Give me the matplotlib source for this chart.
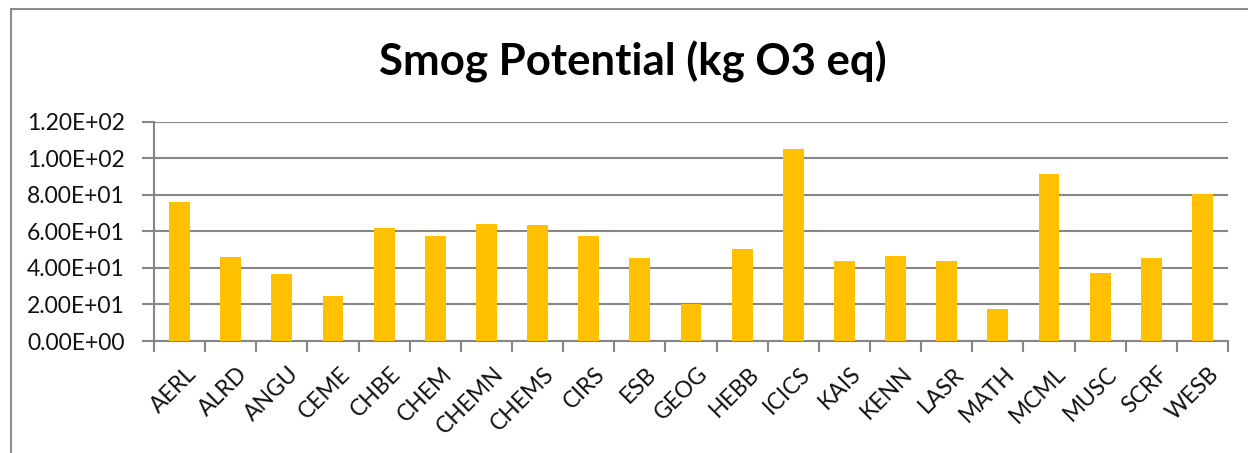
import matplotlib
matplotlib.use("Agg")
import matplotlib.pyplot as plt
import matplotlib.transforms as mtransforms
from matplotlib.patches import Rectangle
from matplotlib.ticker import FuncFormatter
import numpy as np

buildings = ["AERL", "ALRD", "ANGU", "CEME", "CHBE", "CHEM", "CHEMN", "CHEMS",
             "CIRS", "ESB", "GEOG", "HEBB", "ICICS", "KAIS", "KENN", "LASR",
             "MATH", "MCML", "MUSC", "SCRF", "WESB"]
smog_kg_o3 = [75.9, 46.0, 36.5, 24.8, 62.0, 57.6, 64.2, 63.5,
              57.6, 45.2, 20.4, 50.3, 105.1, 43.8, 46.7, 43.8,
              17.5, 91.2, 37.2, 45.2, 80.3]
y_ticks = [0, 20, 40, 60, 80, 100, 120]

W, H = 1248, 453
fig = plt.figure(figsize=(W / 100, H / 100), dpi=100)
plt.rcParams["font.family"] = ["Lato", "DejaVu Sans"]

# chart frame (runs off the right and bottom edges)
fig.patches.append(Rectangle((11 / W, -0.05), 1.1, 1.05 - 9 / H,
                             transform=fig.transFigure, fill=False,
                             edgecolor="#8c8c8c", linewidth=1.5))

ax = fig.add_axes([154 / W, 1 - 341 / H, (1228 - 154) / W, (341 - 121.7) / H])

x = np.arange(len(buildings))
ax.bar(x, smog_kg_o3, width=0.41, color="#FFC000", zorder=3)

ax.set_xlim(-0.5, len(buildings) - 0.5)
ax.set_ylim(0, 120)
ax.set_yticks(y_ticks)
ax.yaxis.set_major_formatter(FuncFormatter(lambda v, _: f"{v:.2E}"))
ax.grid(axis="y", color="#868686", linewidth=1.5, zorder=0)

ax.set_xticks(x)
ax.set_xticklabels(buildings, rotation=45, ha="right", rotation_mode="anchor")
ax.set_xticks(np.arange(-0.5, len(buildings)), minor=True)
ax.tick_params(axis="x", which="major", length=0, pad=16, labelsize=16.5,
               labelcolor="#111111")
ax.tick_params(axis="x", which="minor", length=8, width=1.5, color="#868686",
               direction="out")
ax.tick_params(axis="y", length=9, width=1.5, color="#868686", labelsize=16.5,
               pad=12, labelcolor="#111111")

# nudge the slanted category labels slightly to the right
shift = mtransforms.ScaledTranslation(6 / 100, 0, fig.dpi_scale_trans)
for lbl in ax.get_xticklabels():
    lbl.set_transform(lbl.get_transform() + shift)

for side in ["top", "right"]:
    ax.spines[side].set_visible(False)
for side in ["left", "bottom"]:
    ax.spines[side].set_color("#868686")
    ax.spines[side].set_linewidth(1.5)

fig.text(633 / W, 1 - 62 / H, "Smog Potential (kg O3 eq)", ha="center",
         va="center", fontsize=31.5, fontweight="bold")

fig.savefig("out.png", dpi=100, facecolor="white")
